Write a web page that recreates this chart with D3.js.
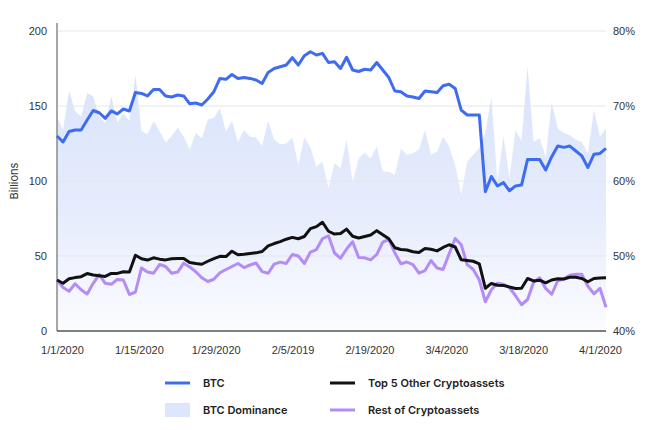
<!DOCTYPE html>
<html><head><meta charset="utf-8">
<script src="https://cdn.jsdelivr.net/npm/d3@7"></script>
<style>
html,body{margin:0;padding:0;background:#fff;}
svg{display:block;font-family:Inter,"Noto Sans",sans-serif;}
</style></head>
<body><svg id="c" width="660" height="430"></svg>
<script>
const tickLabels = ["1/1/2020","1/15/2020","1/29/2020","2/5/2019","2/19/2020","3/4/2020","3/18/2020","4/1/2020"];
const btc = [130,126,133,134,134,140.7,147,145.5,141.8,146.7,144.7,148,146.7,159,158.4,156.7,161,161,156.7,156,157.3,156.7,151.5,152,
 150.7,154.7,159.5,168.4,167.8,171,168.4,169,168.4,167.3,165,172.4,175,176.2,177.3,182.2,177.3,183.5,186.2,184,185.1,179,
 179.5,175,182.5,174,173,174.5,174,179,174,169,160,159.5,156.7,156,155,160,159.5,159,163.5,164.5,161.7,147.3,144,144,144,
 92.9,103,96.7,98.9,93.5,96.7,97.3,114.4,114.4,114.4,107.3,116.2,123.3,122.4,123.3,120,116.7,109,117.8,118.4,121.8];
const top5 = [34,31.8,34.8,35.6,36.2,38.3,37.3,36.9,36.4,38.4,38.4,39.5,39.4,50.5,48.2,47.3,48.8,47.9,47.4,48.2,48.4,48.4,45.7,45,
 44.5,46.5,48.3,49.8,49.6,53.2,50.8,51.1,51.6,52.1,53,56.8,58.3,59.6,61.2,62.4,61.5,63,68.2,69.6,72.5,66.5,
 64.6,65,67.9,63.2,62,63,64,66.9,64.2,61.5,55.5,54.3,54,52.8,52.3,55,54.5,53.4,55.7,57.5,56,47.5,47,46.5,44.8,
 28.5,31.7,30.5,30.4,29.3,28.3,28.5,35,33.4,33.9,32.1,34,34.8,34.7,35.8,35.8,35,32.8,35,35.4,35.5];
const rest = [34,29,26.5,31.5,27.5,24.7,31.8,37.6,31.8,31.1,34.4,34,24.3,26,42,39.3,38.5,44.3,43,38.5,39.3,45.2,42.7,39.5,
 35.5,33,34.5,38.8,41,43,45,42.3,44,45.3,39.6,38.5,44.6,45.9,45,51,50,45,52.6,54.3,61.5,63.5,
 52,48.5,54.7,59.5,49,48.8,47.4,51,59.3,61,52,44.8,46,44.2,38.6,40.3,47,42,41,51.5,61.7,57.5,44.2,41,34,
 19.5,27.5,31.8,31.2,29,23.5,17.5,21,32.5,35.5,28.4,24.5,33.5,34.7,37.2,37.8,37.8,29.8,24.8,28.5,15.8];
const dominance = [68.5,66.8,72,69.3,68.6,71.7,71.3,68.6,67.7,71.3,67.8,69,68,74.1,66.7,66.2,68,66.7,65.1,66,67.1,65.9,64.2,66.4,
 65.7,68.2,68.4,69.7,66.6,68,65.2,66.8,65.9,65.8,64.7,68,65.5,64.9,65,65.8,62.2,65.8,64.5,61.9,62.6,59,
 62.4,61.7,65.5,59.9,63,63.8,63,64.6,61.3,61.2,60.8,64.3,63.5,63.7,64.2,66.8,63.5,63.9,65.9,64.6,62.1,58.2,62.6,63.5,64.4,
 66.5,71.2,59.9,66,60.4,66.8,65.3,75.2,65.2,65.7,63.2,70.5,67,66.4,66.1,65.5,65.2,63.7,69.5,65.9,67];
const leftTicks = [0,50,100,150,200];
const rightTicks = [40,50,60,70,80];

const svg = d3.select("#c");
const L=57,R=606,T=31,B=331;
const x = d3.scaleLinear().domain([0,btc.length-1]).range([L,R]);
const xLab = d3.scalePoint().domain(tickLabels).range([62,600]);
const y = d3.scaleLinear().domain([0,200]).range([B,T]);
const y2 = d3.scaleLinear().domain([40,80]).range([B,T]);

const defs = svg.append("defs");
const g = defs.append("linearGradient").attr("id","dg").attr("x1",0).attr("y1",0).attr("x2",0).attr("y2",1);
g.append("stop").attr("offset","0%").attr("stop-color","#d9e3fb");
g.append("stop").attr("offset","55%").attr("stop-color","#e6ecfc");
g.append("stop").attr("offset","100%").attr("stop-color","#fbfcff");

// dominance area
svg.append("path").datum(dominance)
  .attr("fill","url(#dg)")
  .attr("d", d3.area().x((d,i)=>x(i)).y0(B).y1(d=>y2(d)));

// gridlines
svg.append("g").selectAll("line").data(leftTicks.filter(v=>v>0)).join("line")
  .attr("x1",L).attr("x2",R).attr("y1",d=>y(d)).attr("y2",d=>y(d))
  .attr("stroke","#e4e6ea").attr("stroke-width",1);

// axes
const ax = svg.append("g").attr("transform",`translate(${L},0)`)
  .call(d3.axisLeft(y).tickValues(leftTicks).tickSize(0).tickPadding(10));
ax.select(".domain").remove();
ax.selectAll("text").attr("font-size",11).attr("fill","#333");
svg.append("line").attr("x1",L).attr("x2",L).attr("y1",T-8).attr("y2",B)
  .attr("stroke","#8a8a8a").attr("stroke-width",1.5);
const ar = svg.append("g").attr("transform",`translate(${R},0)`)
  .call(d3.axisRight(y2).tickValues(rightTicks).tickSize(0).tickPadding(7).tickFormat(d=>d+"%"));
ar.select(".domain").remove();
ar.selectAll("text").attr("font-size",11).attr("fill","#333");
const ab = svg.append("g").attr("transform",`translate(0,${B})`)
  .call(d3.axisBottom(xLab).tickSize(0).tickPadding(15));
ab.select(".domain").remove();
ab.selectAll("text").attr("font-size",11).attr("fill","#333");
svg.append("line").attr("x1",L).attr("x2",R).attr("y1",B).attr("y2",B)
  .attr("stroke","#555").attr("stroke-width",1.5);

svg.append("text").attr("transform","translate(18,181) rotate(-90)")
  .attr("text-anchor","middle").attr("font-size",11).attr("fill","#333").text("Billions");

const line = d3.line().x((d,i)=>x(i)).y(d=>y(d));
const series = [[rest,"#b48cf6"],[top5,"#111111"],[btc,"#3e6cf0"]];
series.forEach(([d,c])=>{
  svg.append("path").datum(d).attr("fill","none").attr("stroke",c)
    .attr("stroke-width",3).attr("stroke-linejoin","round").attr("d",line);
});

// legend
const legend = [
  {label:"BTC",color:"#3e6cf0",type:"line",lx:165,ly:383},
  {label:"Top 5 Other Cryptoassets",color:"#111111",type:"line",lx:330,ly:383},
  {label:"BTC Dominance",color:"#dde6fc",type:"rect",lx:165,ly:410},
  {label:"Rest of Cryptoassets",color:"#b48cf6",type:"line",lx:330,ly:410}
];
const lg = svg.append("g").selectAll("g").data(legend).join("g")
  .attr("transform",d=>`translate(${d.lx},${d.ly})`);
lg.filter(d=>d.type==="line").append("line").attr("x1",0).attr("x2",25)
  .attr("stroke",d=>d.color).attr("stroke-width",3);
lg.filter(d=>d.type==="rect").append("rect").attr("x",0).attr("y",-7).attr("width",25).attr("height",14)
  .attr("fill",d=>d.color);
lg.append("text").attr("x",38).attr("dy","0.35em").attr("font-size",11).attr("font-weight",600)
  .attr("fill","#222").text(d=>d.label);
</script></body></html>
